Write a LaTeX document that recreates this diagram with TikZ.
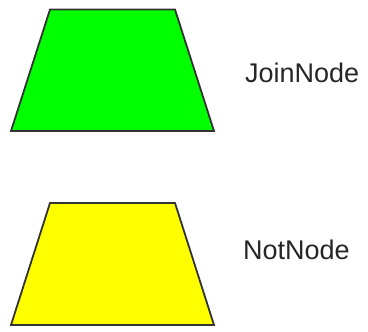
\documentclass[tikz,border=0pt]{standalone}
\usepackage{fontspec}
\setmainfont{Liberation Sans}
\begin{document}
\begin{tikzpicture}[x=1pt,y=-1pt,
  trap/.style={draw=black!80,line width=1.8pt,line join=miter},
  lbl/.style={anchor=base west,inner sep=0pt,font=\fontsize{27}{32}\selectfont,text=black!85}]
\useasboundingbox (0,0) rectangle (368,332);
\draw[trap,fill={rgb,255:red,0;green,255;blue,0}] (50,9.5) -- (175,9.5) -- (214,131) -- (11,131) -- cycle;
\draw[trap,fill={rgb,255:red,255;green,255;blue,0}] (50,203) -- (175,203) -- (214,325) -- (11,325) -- cycle;
\node[lbl] (join) at (245,82) {JoinNode};
\node[lbl] (not) at (243,260) {NotNode};
\end{tikzpicture}
\end{document}
